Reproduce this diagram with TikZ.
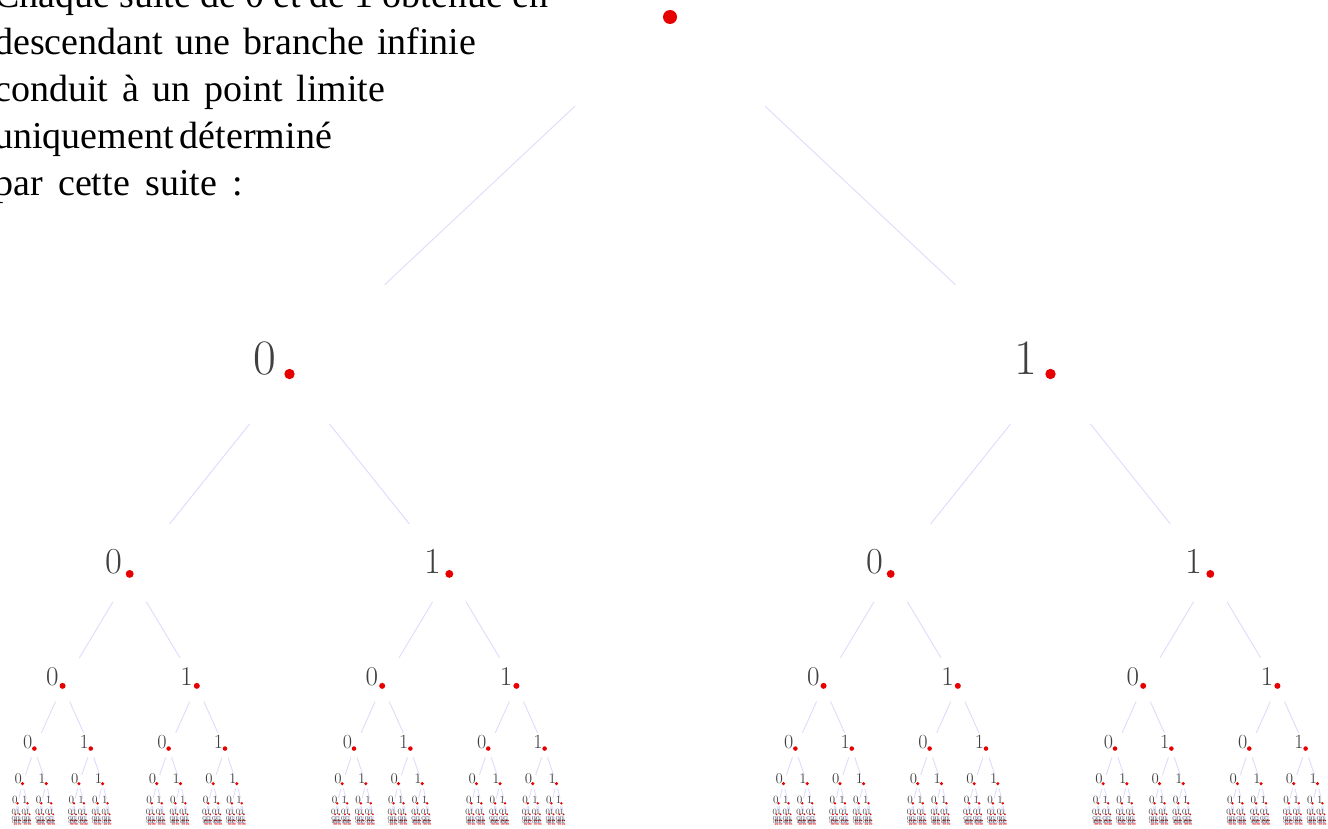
\documentclass[tikz,border=0pt]{standalone}
\usepackage{fontspec}
\usepackage{xcolor}
\usepackage{tikz}
\usetikzlibrary{calc}
\newfontfamily\timesfont{Liberation Serif}
\definecolor{Rouge}{RGB}{230,0,0}
\definecolor{Lavande}{RGB}{220,220,252}
\definecolor{Chiffre}{RGB}{64,64,64}
\newcommand{\ligne}[2]{\makebox[#1][s]{#2}}

\begin{document}
\begin{tikzpicture}[x=1pt,y=-1pt,
    point/.style={circle,fill=Rouge,inner sep=0pt},
    chiffre/.style={text=Chiffre,inner sep=0pt,anchor=base},
    branche/.style={draw=Lavande,line width=0.9pt}]
  \useasboundingbox (0,0) rectangle (1328,829);
  \clip (0,0) rectangle (1328,829);

  \node[anchor=base west,align=left,inner sep=0pt,
        font=\timesfont\fontsize{38}{47}\selectfont] (texte) at (-6,196)
    {\ligne{554pt}{Chaque suite de 0 et de 1 obtenue en}\\
     \ligne{482pt}{descendant une branche infinie}\\
     \ligne{391pt}{conduit à un point limite}\\
     \ligne{336pt}{uniquement déterminé}\\
     \ligne{249pt}{par cette suite :}};

  % racine
  \node[point,minimum size=14] (t-0-0) at (670,17) {};

  % chaque niveau : deux fils par noeud
  \foreach \lev in {1,...,9} {
    \pgfmathtruncatemacro\prev{\lev-1}
    \pgfmathtruncatemacro\np{2^(\lev-1)-1}
    \pgfmathsetmacro\dx{380.5*0.42^(\lev-1)}
    \pgfmathsetmacro\dy{357*0.56^(\lev-1)}
    \pgfmathsetmacro\fs{49.5*0.74^(\lev-1)}
    \pgfmathsetmacro\off{25*0.64^(\lev-1)}
    \pgfmathsetmacro\ds{10.4*0.76^(\lev-1)}
    \foreach \i in {0,...,\np} {
      \pgfmathtruncatemacro\ia{2*\i}
      \pgfmathtruncatemacro\ib{2*\i+1}
      \path (t-\prev-\i) ++(-\dx,\dy) node[point,minimum size=\ds] (t-\lev-\ia) {};
      \path (t-\prev-\i) ++(\dx,\dy) node[point,minimum size=\ds] (t-\lev-\ib) {};
      \node[chiffre,font=\fontsize{\fs}{\fs}\selectfont] (c-\lev-\ia)
        at ([xshift=-\off]t-\lev-\ia) {0};
      \node[chiffre,font=\fontsize{\fs}{\fs}\selectfont] (c-\lev-\ib)
        at ([xshift=-\off]t-\lev-\ib) {1};
      \draw[branche] ($(t-\prev-\i)!0.25!(t-\lev-\ia)$) -- ($(t-\prev-\i)!0.75!(t-\lev-\ia)$);
      \draw[branche] ($(t-\prev-\i)!0.25!(t-\lev-\ib)$) -- ($(t-\prev-\i)!0.75!(t-\lev-\ib)$);
    }
  }
\end{tikzpicture}
\end{document}
